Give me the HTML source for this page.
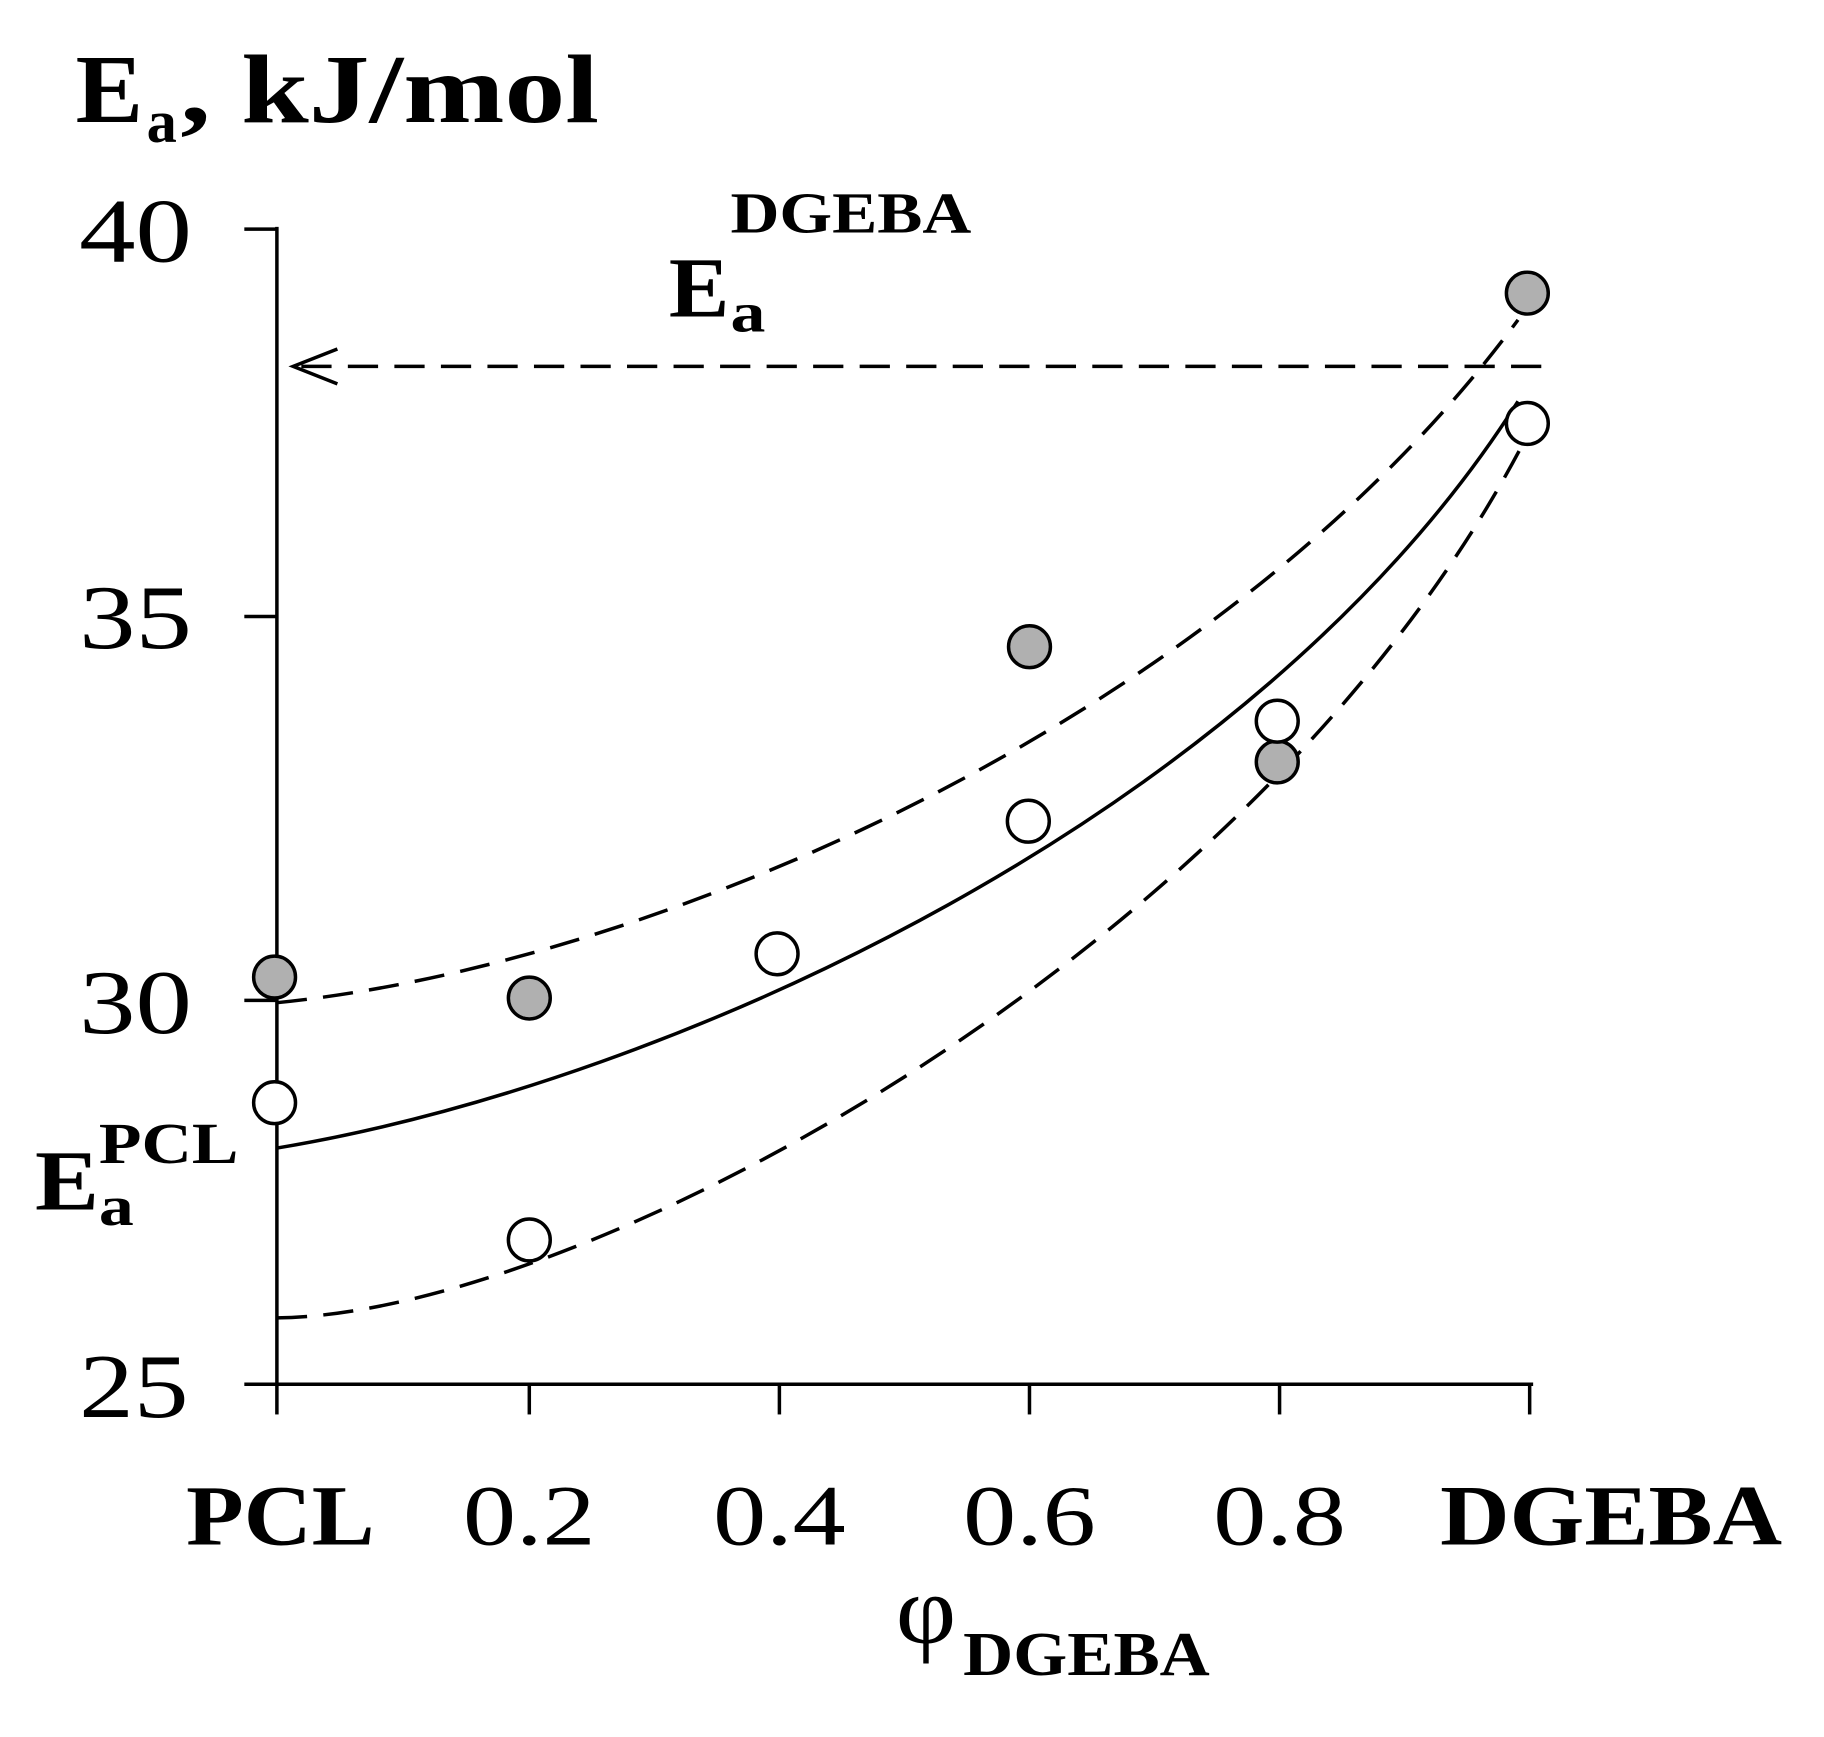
<!DOCTYPE html>
<html><head><meta charset="utf-8"><style>html,body{margin:0;padding:0;background:#fff}</style></head>
<body>
<svg width="1824" height="1732" viewBox="0 0 1568 1489" xmlns="http://www.w3.org/2000/svg" font-family="Liberation Serif, serif">
<rect width="1568" height="1489" fill="#fff"/>
<!-- title -->
<text x="65" y="105" font-size="84" font-weight="bold" textLength="58" lengthAdjust="spacingAndGlyphs">E</text>
<text x="126" y="122" font-size="52" font-weight="bold">a</text>
<text x="155" y="105" font-size="84" font-weight="bold" textLength="360" lengthAdjust="spacingAndGlyphs">, kJ/mol</text>
<!-- axes -->
<g stroke="#000" stroke-width="3" fill="none">
<line x1="238" y1="195" x2="238" y2="1190"/>
<line x1="210" y1="1190" x2="1318" y2="1190"/>
<line x1="210" y1="197" x2="238" y2="197"/>
<line x1="210" y1="530" x2="238" y2="530"/>
<line x1="210" y1="860" x2="238" y2="860"/>
<line x1="238" y1="1190" x2="238" y2="1216"/>
<line x1="455" y1="1190" x2="455" y2="1216"/>
<line x1="670" y1="1190" x2="670" y2="1216"/>
<line x1="885" y1="1190" x2="885" y2="1216"/>
<line x1="1100" y1="1190" x2="1100" y2="1216"/>
<line x1="1315" y1="1190" x2="1315" y2="1216"/>
</g>
<g font-size="78" lengthAdjust="spacingAndGlyphs">
<text x="68" y="225" textLength="97" lengthAdjust="spacingAndGlyphs">40</text>
<text x="68" y="557" textLength="97" lengthAdjust="spacingAndGlyphs">35</text>
<text x="68" y="888" textLength="97" lengthAdjust="spacingAndGlyphs">30</text>
<text x="68" y="1218" textLength="94" lengthAdjust="spacingAndGlyphs">25</text>
</g>
<g font-size="74">
<text x="160" y="1328" font-weight="bold" textLength="162" lengthAdjust="spacingAndGlyphs">PCL</text>
<text x="398" y="1328" textLength="114" lengthAdjust="spacingAndGlyphs">0.2</text>
<text x="613" y="1328" textLength="114" lengthAdjust="spacingAndGlyphs">0.4</text>
<text x="828" y="1328" textLength="114" lengthAdjust="spacingAndGlyphs">0.6</text>
<text x="1043" y="1328" textLength="114" lengthAdjust="spacingAndGlyphs">0.8</text>
<text x="1238" y="1328" font-weight="bold" textLength="294" lengthAdjust="spacingAndGlyphs">DGEBA</text>
</g>
<text x="770" y="1412" font-size="84" textLength="52" lengthAdjust="spacingAndGlyphs">φ</text>
<text x="828" y="1440" font-size="54" font-weight="bold" textLength="212" lengthAdjust="spacingAndGlyphs">DGEBA</text>
<!-- curves -->
<g stroke="#000" stroke-width="3" fill="none">
<path d="M238,862 C560,830 1050,620 1305,275" stroke-dasharray="26,14"/>
<path d="M238,987 C580,930 1080,700 1305,345"/>
<path d="M238,1133 C500,1130 1080,820 1310,380" stroke-dasharray="26,14"/>
<line x1="1325" y1="315" x2="255" y2="315" stroke-dasharray="26,14"/>
<path d="M290,300 L252,315 L290,330"/>
</g>
<!-- labels -->
<text x="575" y="272" font-size="74" font-weight="bold" textLength="52" lengthAdjust="spacingAndGlyphs">E</text>
<text x="628" y="285" font-size="48" font-weight="bold" textLength="30" lengthAdjust="spacingAndGlyphs">a</text>
<text x="628" y="200" font-size="50" font-weight="bold" textLength="207" lengthAdjust="spacingAndGlyphs">DGEBA</text>
<text x="30" y="1040" font-size="74" font-weight="bold" textLength="55" lengthAdjust="spacingAndGlyphs">E</text>
<text x="85" y="1053" font-size="48" font-weight="bold" textLength="30" lengthAdjust="spacingAndGlyphs">a</text>
<text x="85" y="1000" font-size="50" font-weight="bold" textLength="120" lengthAdjust="spacingAndGlyphs">PCL</text>
<!-- points -->
<g stroke="#000" stroke-width="3">
<g fill="#b0b0b0">
<circle cx="236" cy="840" r="18"/>
<circle cx="455" cy="858" r="18"/>
<circle cx="885" cy="556" r="18"/>
<circle cx="1098" cy="655" r="18"/>
<circle cx="1313" cy="252" r="18"/>
</g>
<g fill="#fff">
<circle cx="236" cy="948" r="18"/>
<circle cx="455" cy="1066" r="18"/>
<circle cx="668" cy="820" r="18"/>
<circle cx="884" cy="706" r="18"/>
<circle cx="1098" cy="620" r="18"/>
<circle cx="1313" cy="364" r="18"/>
</g>
</g>
</svg>
</body></html>
